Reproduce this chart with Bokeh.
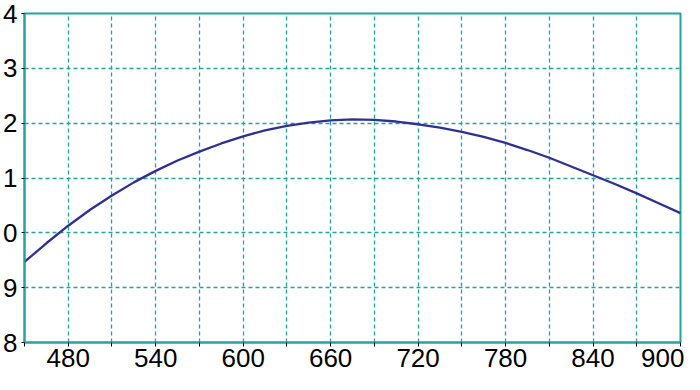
from bokeh.plotting import figure
from bokeh.models import FixedTicker, Range1d
from bokeh.embed import file_html
from bokeh.resources import INLINE

# data
x_vals = [450, 465, 480, 495, 510, 525, 540, 555, 570, 585, 600, 615, 630, 645, 660,
          675, 690, 705, 720, 735, 750, 765, 780, 795, 810, 825, 840, 855, 870, 885, 900]
y_vals = [9.47, 9.81, 10.13, 10.42, 10.68, 10.92, 11.13, 11.32, 11.48, 11.63, 11.76, 11.87, 11.95, 12.01, 12.05,
          12.07, 12.06, 12.03, 11.98, 11.92, 11.84, 11.75, 11.64, 11.51, 11.37, 11.21, 11.05, 10.89, 10.72, 10.54, 10.36]

x_major = [480, 540, 600, 660, 720, 780, 840, 900]
x_minor = [450, 510, 570, 630, 690, 750, 810, 870]
y_ticks = [8, 9, 10, 11, 12, 13, 14]
y_tick_labels = ["8", "9", "0", "1", "2", "3", "4"]

TEAL = "#22A39E"
NAVY = "#2E3192"

p = figure(width=684, height=374, output_backend="svg", toolbar_location=None,
           x_range=Range1d(450, 900), y_range=Range1d(8, 14),
           min_border_top=13, min_border_right=4, min_border_left=0, min_border_bottom=32)
p.background_fill_color = "white"
p.border_fill_color = "white"
p.outline_line_color = TEAL
p.outline_line_width = 2

p.line(x_vals, y_vals, line_color=NAVY, line_width=2.3)

# x axis
xa = p.xaxis[0]
xa.ticker = FixedTicker(ticks=x_major, minor_ticks=x_minor)
xa.axis_line_color = TEAL
xa.axis_line_width = 2
xa.major_tick_line_color = "black"
xa.minor_tick_line_color = "black"
xa.major_tick_out = 4
xa.major_tick_in = 0
xa.minor_tick_out = 4
xa.minor_tick_in = 0
xa.major_label_text_font = "Liberation Sans"
xa.major_label_text_font_size = "26px"
xa.major_label_text_color = "black"
xa.major_label_standoff = 2

# y axis
ya = p.yaxis[0]
ya.ticker = FixedTicker(ticks=y_ticks)
ya.major_label_overrides = {t: l for t, l in zip(y_ticks, y_tick_labels)}
ya.axis_line_color = TEAL
ya.axis_line_width = 2
ya.major_tick_line_color = "black"
ya.minor_tick_line_color = None
ya.major_tick_out = 3
ya.major_tick_in = 0
ya.major_label_text_font = "Liberation Sans"
ya.major_label_text_font_size = "26px"
ya.major_label_text_color = "black"
ya.major_label_standoff = 4

# grids
p.xgrid.grid_line_color = TEAL
p.xgrid.grid_line_dash = "4 3"
p.xgrid.grid_line_width = 1.3
p.xgrid.minor_grid_line_color = TEAL
p.xgrid.minor_grid_line_dash = "4 3"
p.xgrid.minor_grid_line_width = 1.3
p.ygrid.grid_line_color = TEAL
p.ygrid.grid_line_dash = "4 3"
p.ygrid.grid_line_width = 1.3

open("out.html", "w").write(file_html(p, INLINE))
